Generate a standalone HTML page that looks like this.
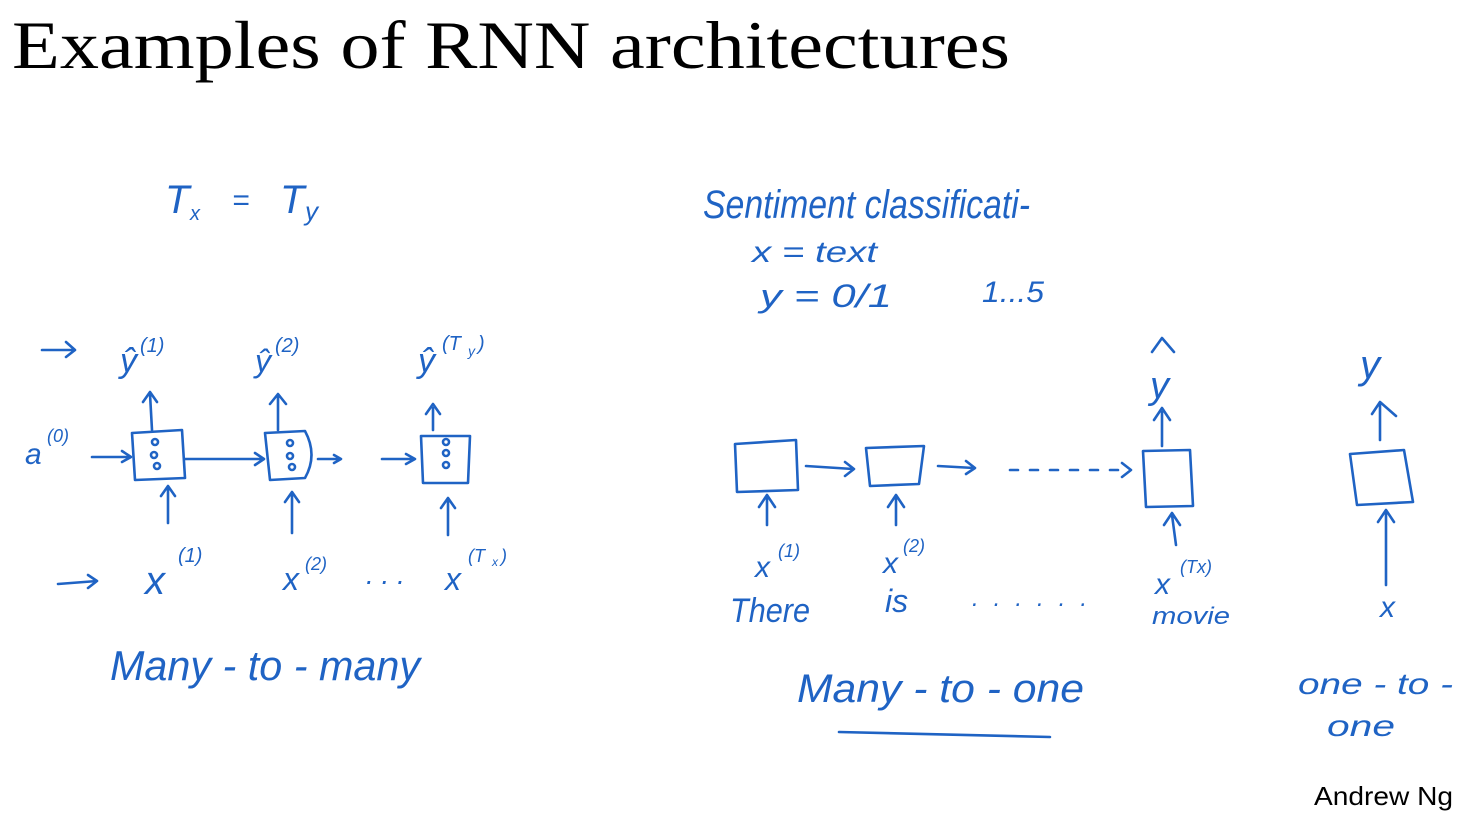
<!DOCTYPE html>
<html><head><meta charset="utf-8"><style>
html,body{margin:0;padding:0;background:#fff;}
svg{display:block}
.h{font-family:"Liberation Sans",sans-serif;fill:#1f63c4;font-style:italic}
</style></head><body>
<svg width="1462" height="816" viewBox="0 0 1462 816" xmlns="http://www.w3.org/2000/svg">
<text x="12" y="68" font-family="Liberation Serif" font-size="68" fill="#000" textLength="998" lengthAdjust="spacingAndGlyphs">Examples of RNN architectures</text>
<text x="1314" y="805" font-family="Liberation Sans" font-size="26" fill="#000" textLength="139" lengthAdjust="spacingAndGlyphs">Andrew Ng</text>
<g stroke="#1f63c4" stroke-width="2.6" fill="none" stroke-linecap="round" stroke-linejoin="round">
<path d="M132 433 L182 430 L185 478 L135 480 Z"/>
<path d="M265 433 L305 431 Q318 455 305 478 L270 480 Z"/>
<path d="M421 436 L470 436 L468 483 L423 483 Z"/>
<path d="M185 459 L263 459 M255 453 L264 459 L255 465"/>
<path d="M318 459 L340 459 M334 455 L341 459 L334 463"/>
<path d="M382 459 L414 459 M406 454 L415 459 L406 464"/>
<path d="M92 457 L130 457 M122 451 L131 457 L122 462"/>
<path d="M152 430 L150 394 M143 402 L150 392 L157 402"/>
<path d="M278 430 L278 396 M270 404 L278 394 L286 404"/>
<path d="M433 430 L433 408 M426 414 L433 404 L440 414"/>
<path d="M168 523 L168 488 M161 496 L168 486 L175 496"/>
<path d="M292 533 L292 494 M285 502 L292 492 L299 502"/>
<path d="M448 535 L448 500 M441 508 L448 498 L455 508"/>
<path d="M42 350 L75 350 M66 342 L75 350 L66 357"/>
<path d="M58 584 L97 581 M88 575 L97 581 L88 588"/>
<circle cx="155" cy="442" r="3"/><circle cx="154" cy="455" r="3"/><circle cx="157" cy="466" r="3"/>
<circle cx="290" cy="443" r="3"/><circle cx="290" cy="456" r="3"/><circle cx="292" cy="467" r="3"/>
<circle cx="446" cy="442" r="3"/><circle cx="446" cy="453" r="3"/><circle cx="446" cy="465" r="3"/>
<path d="M735 444 L796 440 L798 490 L737 492 Z"/>
<path d="M866 448 L924 446 L919 484 L870 486 Z"/>
<path d="M1143 451 L1190 450 L1193 506 L1146 507 Z"/>
<path d="M806 466 L853 469 M845 462 L854 469 L845 476"/>
<path d="M938 466 L974 468 M966 461 L975 468 L966 474"/>
<path d="M1010 470 L1130 470" stroke-dasharray="8 12"/>
<path d="M1122 463 L1131 470 L1122 477"/>
<path d="M767 525 L767 497 M759 507 L767 495 L775 507"/>
<path d="M896 525 L896 497 M888 507 L896 495 L904 507"/>
<path d="M1176 545 L1172 515 M1164 525 L1172 513 L1180 525"/>
<path d="M1162 446 L1162 412 M1154 420 L1162 408 L1170 420"/>
<path d="M1152 352 L1162 338 L1174 352"/>
<path d="M839 732 Q950 735 1050 737"/>
<path d="M1350 454 L1404 450 L1413 502 L1357 505 Z"/>
<path d="M1386 585 L1386 512 M1378 522 L1386 510 L1394 522"/>
<path d="M1380 440 L1380 404 M1372 414 L1380 402 L1396 416"/>
</g>
<g class="h">
<text x="165" y="213" font-size="40">T</text><text x="190" y="220" font-size="20">x</text><text x="232" y="210" font-size="30">=</text><text x="280" y="213" font-size="40">T</text><text x="305" y="220" font-size="26">y</text>
<text x="120" y="372" font-size="34">ŷ</text><text x="140" y="352" font-size="20">(1)</text>
<text x="255" y="372" font-size="32">ŷ</text><text x="275" y="352" font-size="20">(2)</text>
<text x="418" y="372" font-size="34">ŷ</text><text x="442" y="350" font-size="20">(T</text><text x="468" y="356" font-size="14">y</text><text x="478" y="350" font-size="20">)</text>
<text x="25" y="464" font-size="30">a</text><text x="47" y="442" font-size="18">(0)</text>
<text x="145" y="594" font-size="40">x</text><text x="178" y="562" font-size="20">(1)</text>
<text x="283" y="590" font-size="32">x</text><text x="305" y="570" font-size="18">(2)</text>
<text x="366" y="584" font-size="28">. . .</text>
<text x="445" y="590" font-size="32">x</text><text x="468" y="562" font-size="18">(T</text><text x="492" y="566" font-size="12">x</text><text x="501" y="562" font-size="18">)</text>
<text x="110" y="680" font-size="42" textLength="310" lengthAdjust="spacingAndGlyphs">Many - to - many</text>
<text x="703" y="218" font-size="40" textLength="327" lengthAdjust="spacingAndGlyphs">Sentiment classificati-</text>
<text x="752" y="262" font-size="30" textLength="125" lengthAdjust="spacingAndGlyphs">x = text</text>
<text x="760" y="307" font-size="32" textLength="132" lengthAdjust="spacingAndGlyphs">y = 0/1</text><text x="982" y="302" font-size="30" textLength="62" lengthAdjust="spacingAndGlyphs">1...5</text>
<text x="1150" y="398" font-size="38">y</text>
<text x="755" y="577" font-size="30">x</text><text x="778" y="557" font-size="18">(1)</text>
<text x="883" y="573" font-size="30">x</text><text x="903" y="552" font-size="18">(2)</text>
<text x="1155" y="594" font-size="30">x</text><text x="1180" y="573" font-size="18">(Tx)</text>
<text x="730" y="622" font-size="34" textLength="80" lengthAdjust="spacingAndGlyphs">There</text>
<text x="885" y="612" font-size="32">is</text>
<text x="972" y="606" font-size="24" textLength="115" lengthAdjust="spacing">. . . . . .</text>
<text x="1152" y="624" font-size="24" textLength="78" lengthAdjust="spacingAndGlyphs">movie</text>
<text x="797" y="702" font-size="40" textLength="287" lengthAdjust="spacingAndGlyphs">Many - to - one</text>
<text x="1360" y="378" font-size="40">y</text>
<text x="1380" y="617" font-size="30">x</text>
<text x="1298" y="694" font-size="30" textLength="155" lengthAdjust="spacingAndGlyphs">one - to -</text>
<text x="1327" y="736" font-size="30" textLength="68" lengthAdjust="spacingAndGlyphs">one</text>
</g>
</svg>
</body></html>
